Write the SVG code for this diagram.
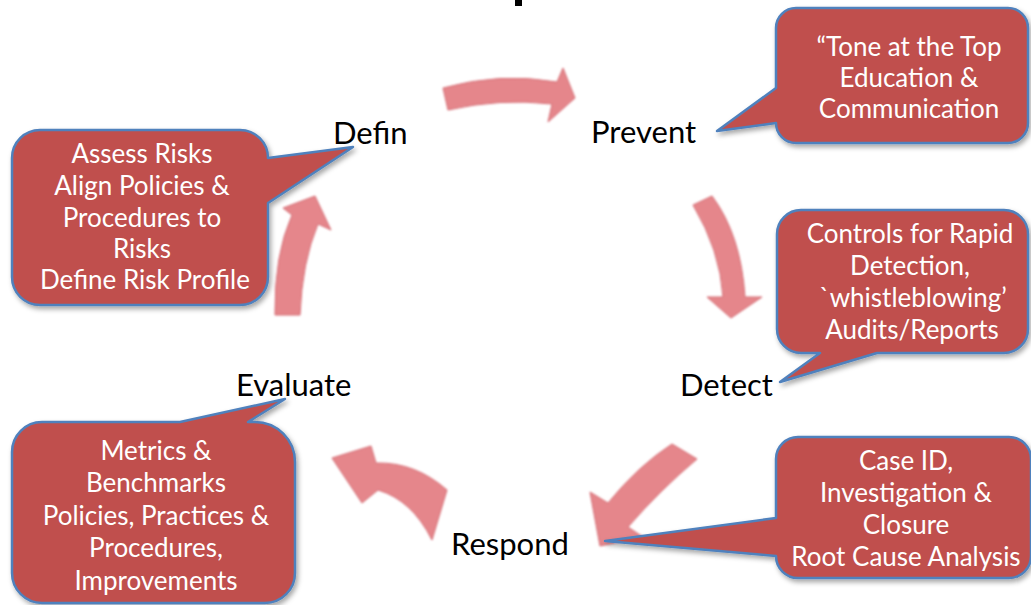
<svg xmlns="http://www.w3.org/2000/svg" width="1031" height="605" viewBox="0 0 1031 605">
<defs>
<style>
.lbl{font-family:Lato,"Liberation Sans",sans-serif;font-size:31px;fill:#000}
.bt{font-family:Lato,"Liberation Sans",sans-serif;font-size:26px;fill:#fff;text-anchor:middle}
.bub{fill:#C0504D;stroke:#4F81BD;stroke-width:2.5;stroke-linejoin:round;filter:url(#sh)}
.arr{fill:#E5868B;stroke:#D46A72;stroke-width:1;filter:url(#soft)}
</style>
<filter id="sh" x="-10%" y="-10%" width="125%" height="130%">
<feDropShadow dx="2" dy="3" stdDeviation="2.5" flood-color="#000" flood-opacity="0.35"/>
</filter>
<filter id="soft" x="-10%" y="-10%" width="120%" height="120%">
<feGaussianBlur stdDeviation="0.8"/>
</filter>
</defs>
<rect width="1031" height="605" fill="#fff"/>
<rect x="515" y="0" width="7" height="6" fill="#000"/>

<g id="connectors">
<path class="arr" d="M443,88 Q500,72 557,82 L563,68 L575,98 L548,122 L552,104 Q500,98 448,110 Z"/>
<path class="arr" d="M693,205 L712,196 Q741,235 745,297 L762,297 L731,318 L707,297 L723,297 Q720,250 693,205 Z"/>
<path class="arr" d="M672,444 Q638,466 608,503 L590,492 L600,546 L643,537 L628,527 Q660,490 697,459 Z"/>
<path class="arr" d="M447,490 Q415,462 376,463 L371,446 L332,458 L362,503 L378,490 Q412,500 432,540 Z"/>
<path class="arr" d="M275,315 Q274,255 292,215 L283,208 L315,196 L331,230 L318,224 Q302,262 300,315 Z"/>
</g>

<g id="define">
<path class="bub" d="M40,130 H240 A28 28 0 0 1 268,158 L353,147 L268,203 V277 A28 28 0 0 1 240,305 H40 A28 28 0 0 1 12,277 V158 A28 28 0 0 1 40,130 Z"/>
<text class="bt" x="142" y="163">Assess Risks</text>
<text class="bt" x="142" y="195">Align Policies &amp;</text>
<text class="bt" x="142" y="227">Procedures to</text>
<text class="bt" x="142" y="258">Risks</text>
<text class="bt" x="145" y="289">Define Risk Profile</text>
<text class="lbl" x="333" y="144">Defin</text>
</g>

<g id="prevent">
<path class="bub" d="M796,8 H1008 A20 20 0 0 1 1028,28 V123 A20 20 0 0 1 1008,143 H796 A20 20 0 0 1 776,123 L717,131 L776,88 V28 A20 20 0 0 1 796,8 Z"/>
<text class="bt" x="909" y="56">“Tone at the Top</text>
<text class="bt" x="909" y="87">Education &amp;</text>
<text class="bt" x="909" y="118">Communication</text>
<text class="lbl" x="591" y="143">Prevent</text>
</g>

<g id="detect">
<path class="bub" d="M801,210 H1004 A24 24 0 0 1 1028,234 V329 A24 24 0 0 1 1004,353 H877 L780,382 L820,353 H801 A24 24 0 0 1 777,329 V234 A24 24 0 0 1 801,210 Z"/>
<text class="bt" x="910" y="243">Controls for Rapid</text>
<text class="bt" x="910" y="275">Detection,</text>
<text class="bt" x="913" y="307">`whistleblowing’</text>
<text class="bt" x="912" y="339">Audits/Reports</text>
<text class="lbl" x="680" y="396">Detect</text>
</g>

<g id="respond">
<path class="bub" d="M798,437 H1009 A22 22 0 0 1 1031,459 V556 A22 22 0 0 1 1009,578 H798 A22 22 0 0 1 776,556 L605,541 L776,518 V459 A22 22 0 0 1 798,437 Z"/>
<text class="bt" x="906" y="470">Case ID,</text>
<text class="bt" x="906" y="502">Investigation &amp;</text>
<text class="bt" x="906" y="534">Closure</text>
<text class="bt" x="906" y="566">Root Cause Analysis</text>
<text class="lbl" x="451" y="555">Respond</text>
</g>

<g id="evaluate">
<path class="bub" d="M42,422 H180 L285,399 L248,422 H255 A40 40 0 0 1 295,462 V573 A30 30 0 0 1 265,603 H42 A30 30 0 0 1 12,573 V452 A30 30 0 0 1 42,422 Z"/>
<text class="bt" x="156" y="460">Metrics &amp;</text>
<text class="bt" x="156" y="492">Benchmarks</text>
<text class="bt" x="156" y="525">Policies, Practices &amp;</text>
<text class="bt" x="156" y="557">Procedures,</text>
<text class="bt" x="156" y="590">Improvements</text>
<text class="lbl" x="236" y="396">Evaluate</text>
</g>
</svg>
